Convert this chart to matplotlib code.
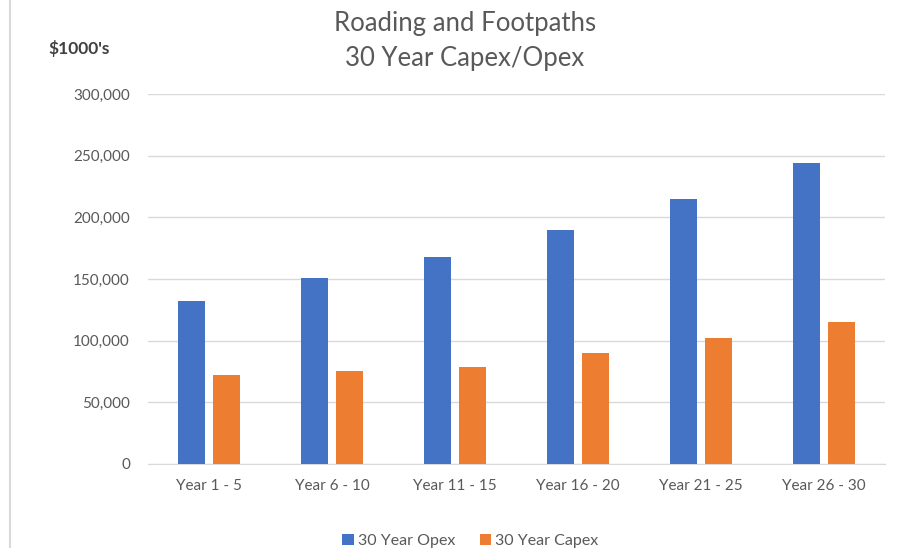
import numpy as np
import matplotlib.pyplot as plt
from matplotlib.lines import Line2D

plt.rcParams['font.family'] = ['Lato', 'DejaVu Sans']

# values in $1000's
periods = ['Year 1 - 5', 'Year 6 - 10', 'Year 11 - 15', 'Year 16 - 20', 'Year 21 - 25', 'Year 26 - 30']
opex = [132000, 151000, 168000, 190000, 215000, 244000]
capex = [72000, 75000, 79000, 90000, 102000, 115000]

blue = '#4472C4'
orange = '#ED7D31'
grey_text = '#595959'
grid_col = '#D9D9D9'

fig = plt.figure(figsize=(9.1, 5.48), dpi=100)
ax = fig.add_axes([0.1626, 0.1533, 0.81, 0.6752])

x = np.arange(len(periods))
w = 0.22
ax.bar(x - 0.143, opex, w, color=blue, label='30 Year Opex', zorder=3)
ax.bar(x + 0.143, capex, w, color=orange, label='30 Year Capex', zorder=3)

ax.set_xlim(-0.5, len(periods) - 0.5)
ax.set_ylim(0, 300000)
ax.set_yticks(np.arange(0, 300001, 50000))
ax.set_yticklabels([f'{v:,}' for v in range(0, 300001, 50000)])
ax.set_xticks(x)
ax.set_xticklabels(periods)

ax.grid(axis='y', color=grid_col, linewidth=1, zorder=0)
for s in ['top', 'right', 'left']:
    ax.spines[s].set_visible(False)
ax.spines['bottom'].set_color(grid_col)
ax.tick_params(axis='both', length=0, labelsize=11, colors=grey_text)
ax.tick_params(axis='y', pad=13)
ax.tick_params(axis='x', pad=11)

fig.text(0.511, 0.958, 'Roading and Footpaths', ha='center', va='center',
         fontsize=18.5, color=grey_text)
fig.text(0.511, 0.894, '30 Year Capex/Opex', ha='center', va='center',
         fontsize=18.5, color=grey_text)
fig.text(0.053, 0.912, "$1000's", ha='left', va='center', fontsize=12.5,
         fontweight='bold', color='#404040')

# left border of the chart frame
fig.add_artist(Line2D([0.011, 0.011], [0, 1], color=grid_col, linewidth=1.5))

handles, labels = ax.get_legend_handles_labels()
fig.legend(handles, labels, loc='center', bbox_to_anchor=(0.517, 0.013), ncol=2,
           frameon=False, fontsize=11.5, labelcolor=grey_text,
           handlelength=0.75, handleheight=0.75, handletextpad=0.25, columnspacing=1.5)

fig.savefig('out.png', dpi=100)
